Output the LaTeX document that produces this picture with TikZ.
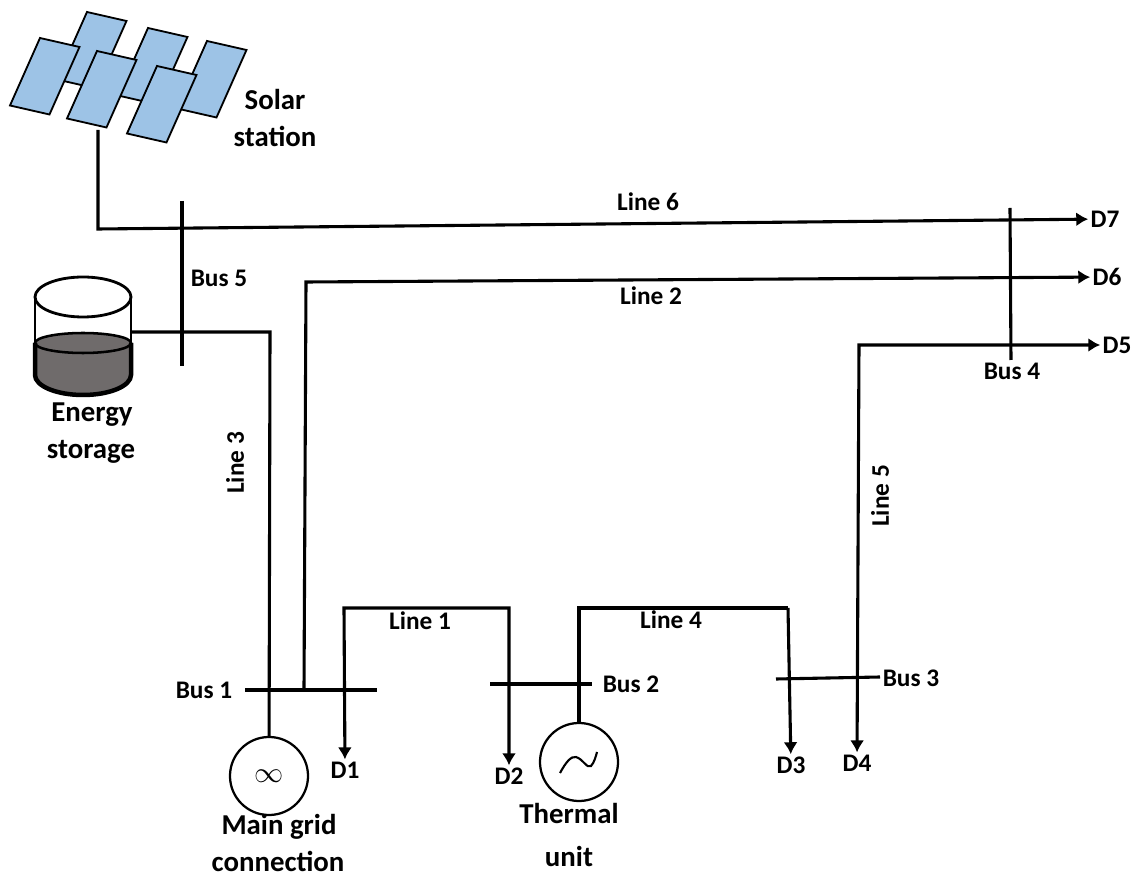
\documentclass[tikz,border=0pt]{standalone}
\usepackage{fontspec}
\setmainfont{Carlito}
\usetikzlibrary{arrows.meta, positioning, calc}
\definecolor{panelblue}{HTML}{9DC3E6}
\definecolor{liquidgray}{HTML}{6F6B6B}

\begin{document}
\begin{tikzpicture}[x=0.025cm, y=-0.025cm,
        >={Latex[length=8.5pt, width=10pt]},
        wire/.style={line width=2.2pt, line join=miter},
        feed/.style={wire, ->},
        twofeed/.style={wire, <->},
        panel/.style={draw, fill=panelblue, line width=1.3pt},
        source/.style={draw, circle, fill=white, line width=1.6pt, minimum size=1.95cm, inner sep=0pt},
        tag/.style={font=\bfseries\fontsize{20.5}{22}\selectfont, inner sep=0pt},
        buslabel/.style={font=\bfseries\fontsize{18}{20}\selectfont, inner sep=0pt},
        load/.style={font=\bfseries\fontsize{18}{20}\selectfont, inner sep=1.5pt}]
            \useasboundingbox (0,0) rectangle (1133,878);

            % Solar station
            \foreach \px/\py in {87/12, 148/28, 207/41, 40/38, 97/51, 157/66}
                \draw[panel] (\px,\py) -- ++(39.5,9) -- ++(-30,67.5) -- ++(-39.5,-9) -- cycle;
            \coordinate (solar) at (98,130);
            \node[tag] (solarA) at (275,99) {Solar};
            \node[tag] (solarB) at (275,136) {station};

            % Energy storage
            \fill[liquidgray] (35,343) -- (35,375) arc[start angle=180, end angle=0, x radius=48, y radius=20] -- (131,343) -- cycle;
            \draw[line width=1.8pt, fill=liquidgray] (83,343) ellipse[x radius=48, y radius=10];
            \draw[line width=2pt] (83,297) ellipse[x radius=48, y radius=20];
            \draw[line width=1.8pt] (35,297) -- (35,343);
            \draw[line width=1.8pt] (131,297) -- (131,343);
            \draw[line width=3.2pt] (35,343) -- (35,375) arc[start angle=180, end angle=0, x radius=48, y radius=20] -- (131,343);
            \coordinate (storage) at (131,332);
            \node[tag] (storageA) at (92,415) {Energy};
            \node[tag] (storageB) at (91,452) {storage};

            % Sources
            \node[source] (grid) at (269,776) {\fontsize{22}{22}\selectfont$\infty$};
            \node[source] (thermal) at (579,762) {};
            \draw[line width=1.5pt] (560,773) .. controls (566,762) and (571,756) .. (576,757) .. controls (583,759) and (587,769) .. (591,766) .. controls (594,763) and (596,756) .. (597,752);
            \node[tag] (gridA) at (279,827) {Main grid};
            \node[tag] (gridB) at (278,861) {connection};
            \node[tag] (thermalA) at (569,813) {Thermal};
            \node[tag] (thermalB) at (569,856) {unit};

            % Loads
            \node[load] (d1) at (345,770) {D1};
            \node[load] (d2) at (509,776) {D2};
            \node[load] (d3) at (791,765) {D3};
            \node[load] (d4) at (857,763) {D4};
            \node[load] (d5) at (1117,345) {D5};
            \node[load] (d6) at (1107,277) {D6};
            \node[load] (d7) at (1105,219) {D7};

            % Buses
            \coordinate (busAw) at (245,690);
            \coordinate (busAe) at (377,690);
            \coordinate (busBw) at (490,684);
            \coordinate (busBe) at (592,684);
            \coordinate (busCw) at (776,679);
            \coordinate (busCe) at (880,677);
            \coordinate (busDn) at (1010,208);
            \coordinate (busDs) at (1011,360);
            \coordinate (busEn) at (182,201);
            \coordinate (busEs) at (182,366);
            \draw[wire] (busAw) -- (busAe);
            \draw[wire] (busBw) -- (busBe);
            \draw[wire] (busCw) -- (busCe);
            \draw[wire] (busDn) -- (busDs);
            \draw[wire] (busEn) -- (busEs);
            \node[buslabel] (busA) at (204,690) {Bus 1};
            \node[buslabel] (busB) at (631,684) {Bus 2};
            \node[buslabel] (busC) at (911,678) {Bus 3};
            \node[buslabel] (busD) at (1012,371) {Bus 4};
            \node[buslabel] (busE) at (219,278) {Bus 5};

            % Lines
            \coordinate (solarC) at (98,229);
            \coordinate (lineBs) at (304,690);
            \coordinate (lineBc) at (306,282);
            \coordinate (lineCc) at (270,332);
            \coordinate (lineAa) at (344,608);
            \coordinate (lineAb) at (509,608);
            \coordinate (lineDs) at (579,608);
            \coordinate (lineDb) at (788,608);
            \coordinate (lineEc) at (859,345);
            \draw[feed] (solar) -- (solarC) -- (d7);
            \draw[feed] (lineBs) -- (lineBc) -- (d6);
            \draw[wire] (storage) -- (lineCc) -- (grid);
            \draw[twofeed] (d1) -- (lineAa) -- (lineAb) -- (d2);
            \draw[wire] (thermal) -- (lineDs) -- (lineDb);
            \draw[feed] (lineDb) -- (d3);
            \draw[twofeed] (d4) -- (lineEc) -- (d5);
            \node[buslabel] (lineF) at (648,202) {Line 6};
            \node[buslabel] (lineB) at (651,296) {Line 2};
            \node[buslabel, rotate=90] (lineC) at (235,463) {Line 3};
            \node[buslabel, rotate=90] (lineE) at (880,496) {Line 5};
            \node[buslabel] (lineA) at (420,621) {Line 1};
            \node[buslabel] (lineD) at (671,620) {Line 4};
\end{tikzpicture}
\end{document}
